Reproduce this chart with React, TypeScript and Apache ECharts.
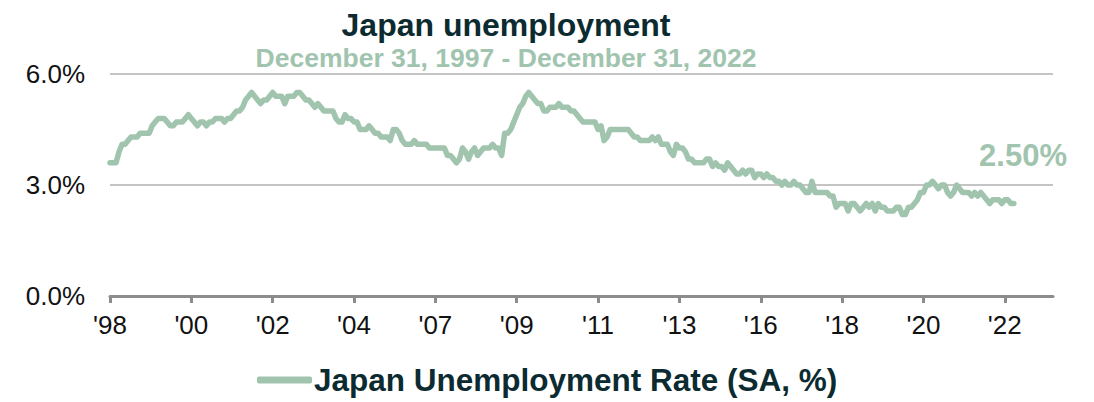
import React, { useEffect, useRef } from "react";
import * as echarts from "echarts";

// Monthly Japan unemployment rate (SA, %), Dec 1997 .. Dec 2022
const rate1997: number[] = [3.6];
const rate1998: number[] = [3.6, 3.6, 3.9, 4.1, 4.1, 4.2, 4.3, 4.3, 4.3, 4.4, 4.4, 4.4];
const rate1999: number[] = [4.4, 4.6, 4.7, 4.8, 4.8, 4.8, 4.7, 4.6, 4.6, 4.7, 4.7, 4.7];
const rate2000: number[] = [4.8, 4.9, 4.8, 4.7, 4.6, 4.7, 4.7, 4.6, 4.7, 4.7, 4.8, 4.8];
const rate2001: number[] = [4.8, 4.7, 4.8, 4.8, 4.9, 5.0, 5.0, 5.1, 5.3, 5.4, 5.5, 5.4];
const rate2002: number[] = [5.3, 5.2, 5.3, 5.3, 5.4, 5.5, 5.4, 5.4, 5.4, 5.2, 5.4, 5.4];
const rate2003: number[] = [5.4, 5.5, 5.5, 5.4, 5.3, 5.3, 5.2, 5.1, 5.2, 5.1, 5.0, 5.0];
const rate2004: number[] = [5.0, 5.0, 4.8, 4.7, 4.7, 4.9, 4.8, 4.8, 4.7, 4.7, 4.5, 4.5];
const rate2005: number[] = [4.5, 4.6, 4.5, 4.4, 4.4, 4.3, 4.3, 4.3, 4.2, 4.5, 4.5, 4.4];
const rate2006: number[] = [4.2, 4.1, 4.1, 4.1, 4.2, 4.1, 4.1, 4.1, 4.1, 4.0, 4.0, 4.0];
const rate2007: number[] = [4.0, 4.0, 4.0, 3.8, 3.8, 3.7, 3.6, 3.7, 4.0, 3.9, 3.7, 3.9];
const rate2008: number[] = [4.0, 3.8, 3.9, 4.0, 4.0, 4.0, 4.1, 4.0, 4.0, 3.8, 4.4, 4.4];
const rate2009: number[] = [4.5, 4.7, 4.9, 5.1, 5.2, 5.4, 5.5, 5.4, 5.3, 5.2, 5.2, 5.0];
const rate2010: number[] = [5.0, 5.1, 5.1, 5.1, 5.2, 5.1, 5.1, 5.1, 5.0, 5.0, 4.9, 4.8];
const rate2011: number[] = [4.7, 4.7, 4.7, 4.7, 4.7, 4.5, 4.6, 4.2, 4.3, 4.5, 4.5, 4.5];
const rate2012: number[] = [4.5, 4.5, 4.5, 4.5, 4.4, 4.3, 4.3, 4.2, 4.2, 4.2, 4.2, 4.3];
const rate2013: number[] = [4.2, 4.3, 4.1, 4.1, 4.1, 3.9, 3.8, 4.1, 4.0, 4.0, 3.9, 3.7];
const rate2014: number[] = [3.7, 3.6, 3.6, 3.6, 3.6, 3.7, 3.7, 3.5, 3.6, 3.5, 3.5, 3.4];
const rate2015: number[] = [3.6, 3.5, 3.4, 3.3, 3.3, 3.4, 3.3, 3.4, 3.4, 3.2, 3.3, 3.3];
const rate2016: number[] = [3.2, 3.3, 3.2, 3.2, 3.1, 3.1, 3.0, 3.1, 3.0, 3.0, 3.1, 3.0];
const rate2017: number[] = [3.0, 2.9, 2.8, 2.8, 3.1, 2.8, 2.8, 2.8, 2.8, 2.8, 2.7, 2.7];
const rate2018: number[] = [2.4, 2.5, 2.5, 2.5, 2.3, 2.5, 2.5, 2.4, 2.3, 2.4, 2.5, 2.4];
const rate2019: number[] = [2.5, 2.3, 2.5, 2.4, 2.4, 2.3, 2.3, 2.3, 2.4, 2.4, 2.2, 2.2];
const rate2020: number[] = [2.4, 2.4, 2.5, 2.6, 2.8, 2.8, 3.0, 3.0, 3.1, 3.0, 2.9, 3.0];
const rate2021: number[] = [3.0, 2.8, 2.7, 2.8, 3.0, 2.9, 2.8, 2.8, 2.8, 2.7, 2.8, 2.7];
const rate2022: number[] = [2.8, 2.7, 2.6, 2.5, 2.6, 2.6, 2.6, 2.5, 2.6, 2.6, 2.5, 2.5];

const unemploymentRate: number[] = [
  ...rate1997, ...rate1998, ...rate1999, ...rate2000, ...rate2001, ...rate2002,
  ...rate2003, ...rate2004, ...rate2005, ...rate2006, ...rate2007, ...rate2008,
  ...rate2009, ...rate2010, ...rate2011, ...rate2012, ...rate2013, ...rate2014,
  ...rate2015, ...rate2016, ...rate2017, ...rate2018, ...rate2019, ...rate2020,
  ...rate2021, ...rate2022,
];

// x axis: monthly categories from Dec 1997, axis runs a year past the data
const axisMonthCount = 314;
const categories: string[] = [];
for (let i = 0; i < axisMonthCount; i++) {
  const m = 11 + i;
  const y = 1997 + Math.floor(m / 12);
  const mm = (m % 12) + 1;
  categories.push(`${y}-${mm < 10 ? "0" + mm : mm}`);
}
const tickStep = 27;
const tickLabels: string[] = ["'98", "'00", "'02", "'04", "'07", "'09", "'11", "'13", "'16", "'18", "'20", "'22"];
const yTicks: number[] = [0, 3, 6];

const TITLE = "Japan unemployment";
const SUBTITLE = "December 31, 1997 - December 31, 2022";
const SERIES_NAME = "Japan Unemployment Rate (SA, %)";

const GREEN = "#a1c4af";
const DARK = "#0c2b31";
const FONT = '"Liberation Sans", Arial, Helvetica, sans-serif';

export default function App() {
  const ref = useRef<HTMLDivElement>(null);
  useEffect(() => {
    if (!ref.current) return;
    const chart = echarts.init(ref.current, undefined, { renderer: "svg" });
    const last = unemploymentRate[unemploymentRate.length - 1];
    chart.setOption({
      animation: false,
      backgroundColor: "#ffffff",
      textStyle: { fontFamily: FONT },
      grid: { left: 110, right: 41, top: 74, bottom: 106, containLabel: false },
      graphic: [
        {
          type: "text",
          x: 506,
          y: 25,
          style: {
            text: TITLE,
            fill: DARK,
            font: `bold 32px ${FONT}`,
            align: "center",
            verticalAlign: "middle",
          },
        },
        {
          type: "text",
          x: 506,
          y: 58,
          style: {
            text: SUBTITLE,
            fill: GREEN,
            font: `bold 26.5px ${FONT}`,
            align: "center",
            verticalAlign: "middle",
          },
        },
        {
          type: "text",
          x: 1067,
          y: 155,
          style: {
            text: `${last.toFixed(2)}%`,
            fill: GREEN,
            font: `bold 31px ${FONT}`,
            align: "right",
            verticalAlign: "middle",
          },
        },
      ],
      legend: {
        show: true,
        left: 252,
        top: 358,
        itemWidth: 55,
        itemHeight: 7,
        itemGap: 10,
        icon: "roundRect",
        data: [{ name: SERIES_NAME, itemStyle: { color: GREEN } }],
        textStyle: {
          color: DARK,
          fontSize: 31.5,
          fontWeight: "bold",
          fontFamily: FONT,
          lineHeight: 34,
          padding: [0, 0, 0, -3],
        },
      },
      xAxis: {
        type: "category",
        data: categories,
        boundaryGap: false,
        axisLine: { show: true, lineStyle: { color: "#8c8c8c", width: 3 } },
        axisTick: { show: true, interval: tickStep - 1, length: 7, lineStyle: { color: "#8c8c8c", width: 3 } },
        axisLabel: {
          interval: tickStep - 1,
          margin: 16,
          color: "#111111",
          fontSize: 26,
          fontFamily: FONT,
          formatter: (_v: string, idx: number) => {
            const k = idx / tickStep;
            return Number.isInteger(k) && tickLabels[k] !== undefined ? tickLabels[k] : "";
          },
        },
        splitLine: { show: false },
      },
      yAxis: {
        type: "value",
        min: yTicks[0],
        max: yTicks[yTicks.length - 1],
        interval: yTicks[1] - yTicks[0],
        axisLine: { show: false },
        axisTick: { show: false },
        axisLabel: {
          margin: 25,
          color: "#111111",
          fontSize: 26,
          fontFamily: FONT,
          formatter: (v: number) => `${v.toFixed(1)}%`,
        },
        splitLine: { show: true, lineStyle: { color: "#c4c4c4", width: 2 } },
      },
      series: [
        {
          name: SERIES_NAME,
          type: "line",
          data: unemploymentRate,
          showSymbol: false,
          symbol: "none",
          lineStyle: { color: GREEN, width: 5.5, join: "round", cap: "round" },
          itemStyle: { color: GREEN },
          z: 3,
        },
      ],
    });
    return () => chart.dispose();
  }, []);
  return (
    <div
      ref={ref}
      style={{ position: "fixed", left: 0, top: 0, width: 1094, height: 402, background: "#fff" }}
    />
  );
}
